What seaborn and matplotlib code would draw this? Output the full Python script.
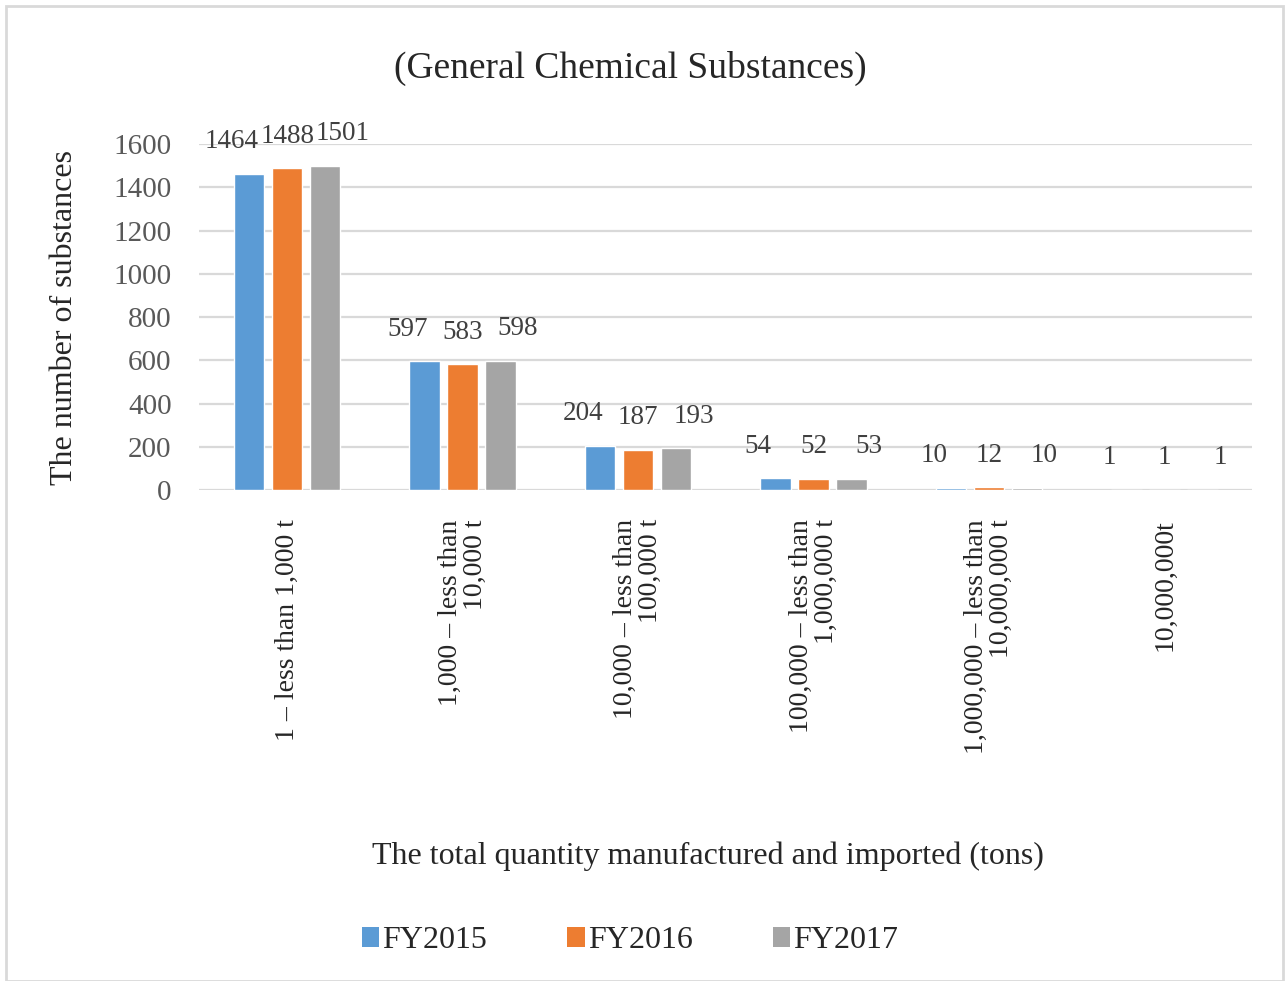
import pandas as pd
import matplotlib.pyplot as plt
import seaborn as sns
from matplotlib.patches import Rectangle, Patch

# Data
categories = [
    '1 \u2013 less than 1,000 t',
    '1,000 \u2013 less than\n10,000 t',
    '10,000 \u2013 less than\n100,000 t',
    '100,000 \u2013 less than\n1,000,000 t',
    '1,000,000 \u2013 less than\n10,000,000 t',
    '10,000,000t',
]
years = ['FY2015', 'FY2016', 'FY2017']
fy2015 = [1464, 597, 204, 54, 10, 1]
fy2016 = [1488, 583, 187, 52, 12, 1]
fy2017 = [1501, 598, 193, 53, 10, 1]
colors = ['#5B9BD5', '#ED7D31', '#A5A5A5']

df = pd.DataFrame({
    'Category': categories * 3,
    'Year': [y for y in years for _ in categories],
    'Count': fy2015 + fy2016 + fy2017,
})

sns.set_style('white')
plt.rcParams['font.family'] = ['Liberation Serif', 'DejaVu Serif']

fig = plt.figure(figsize=(12.87, 9.81), dpi=100)
ax = fig.add_axes([0.155, 0.5005, 0.818, 0.3525])

sns.barplot(data=df, x='Category', y='Count', hue='Year', palette=colors,
            width=0.65, gap=0.2, saturation=1, ax=ax, legend=False, zorder=3)

# value labels, nudged sideways (in points) so the wide numbers don't collide
shifts = [-12.5, 0, 12.5]
for cont, dx in zip(ax.containers, shifts):
    labels = ax.bar_label(cont, padding=14, fontsize=19.5, color='#404040')
    for t in labels:
        t.xyann = (dx, t.xyann[1])

ax.set_ylim(0, 1600)
ax.set_yticks(range(0, 1601, 200))
ax.grid(axis='y', color='#D9D9D9', linewidth=1.6, zorder=0)
ax.set_axisbelow(True)
for s in ax.spines.values():
    s.set_visible(False)
ax.tick_params(axis='y', length=0, pad=20, labelsize=21, labelcolor='#595959')
ax.tick_params(axis='x', length=0, pad=21, labelsize=20)
for lbl in ax.get_xticklabels():
    lbl.set_rotation(90)
    lbl.set_va('top')
    lbl.set_ha('center')
    lbl.set_multialignment('right')
    lbl.set_linespacing(1.0)

ax.set_xlabel('The total quantity manufactured and imported (tons)', fontsize=23)
ax.xaxis.set_label_coords(0.483, -1.017)
ax.set_ylabel('The number of substances', fontsize=23)
ax.yaxis.set_label_coords(-0.114, 0.5)

fig.text(630 / 1287, 1 - 68 / 981, '(General Chemical Substances)', fontsize=27,
         ha='center', va='center')

handles = [Patch(facecolor=c, edgecolor='none') for c in colors]
fig.legend(handles, years, loc='center', bbox_to_anchor=(630 / 1287, 0.041), ncol=3,
           frameon=False, fontsize=23, handlelength=0.55, handleheight=0.55,
           handletextpad=0.1, columnspacing=2.5)

fig.patches.append(Rectangle((0.005, 0.0), 0.992, 0.994, transform=fig.transFigure,
                             fill=False, edgecolor='#D9D9D9', linewidth=2))

fig.savefig('out.png', dpi=100)
